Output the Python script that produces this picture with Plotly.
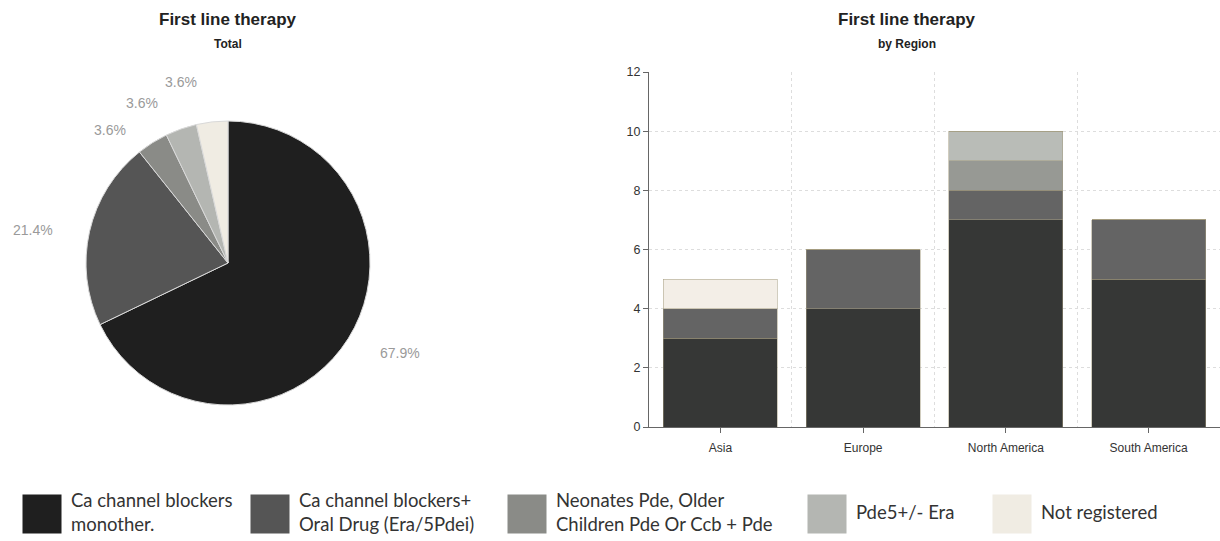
import numpy as np
import plotly.graph_objects as go

# ---------------- data ----------------
categories = ["Ca channel blockers monother.",
              "Ca channel blockers+ Oral Drug (Era/5Pdei)",
              "Neonates Pde, Older Children Pde Or Ccb + Pde",
              "Pde5+/- Era",
              "Not registered"]
legend_labels = ["Ca channel blockers<br>monother.",
                 "Ca channel blockers+<br>Oral Drug (Era/5Pdei)",
                 "Neonates Pde, Older<br>Children Pde Or Ccb + Pde",
                 "Pde5+/- Era",
                 "Not registered"]
pie_values = [19, 6, 1, 1, 1]

regions = ["Asia", "Europe", "North America", "South America"]
ca_mono = [3, 4, 7, 5]
ca_plus = [1, 2, 1, 2]
neonates = [0, 0, 1, 0]
pde5 = [0, 0, 1, 0]
not_registered = [1, 0, 0, 0]
bar_series = [ca_mono, ca_plus, neonates, pde5, not_registered]

y_ticks = [0, 2, 4, 6, 8, 10, 12]

# ---------------- styles ----------------
W, H = 1220, 541
pie_colors = ["#1f1f1f", "#555555", "#8a8b87", "#b4b6b2", "#f0ece3"]
bar_colors = ["#363736", "#646464", "#979994", "#b9bcb7", "#f3eee7"]
legend_colors = ["#1f1f1f", "#555555", "#8a8b87", "#b4b6b2", "#f0ece3"]
legend_x = [42, 270, 527, 827, 1012]          # swatch centres in px
legend_text_gap = 29                           # px from swatch centre to text
label_shift_deg = [-4.6, -3.3, -9.3, -9.0, -8.2]  # label angle nudges
label_radius = [194, 198, 178, 182, 187]          # label distance in px

FONT = "Liberation Sans, Arial, sans-serif"

fig = go.Figure()

# ---------------- pie ----------------
cx, cy, R = 228, 263, 142
fig.add_trace(go.Pie(
    labels=categories, values=pie_values, sort=False, direction="clockwise",
    rotation=0, textinfo="none", showlegend=False, hoverinfo="label+percent",
    marker=dict(colors=pie_colors, line=dict(color="#d9d9d9", width=1)),
    domain=dict(x=[(cx - R) / W, (cx + R) / W], y=[1 - (cy + R) / H, 1 - (cy - R) / H]),
))

annotations = []
total = sum(pie_values)
cum = 0
for v, sh, rl in zip(pie_values, label_shift_deg, label_radius):
    mid = (cum + v / 2) / total * 360
    cum += v
    a = np.radians(mid + sh)
    px = cx + rl * np.sin(a)
    py = cy - rl * np.cos(a)
    annotations.append(dict(x=px / W, y=1 - py / H, xref="paper", yref="paper",
                            xanchor="center", yanchor="middle",
                            text=f"{v / total * 100:.1f}%", showarrow=False,
                            font=dict(family=FONT, size=14, color="#9a9a9a")))

# ---------------- stacked bars ----------------
for name, vals, col in zip(categories, bar_series, bar_colors):
    fig.add_trace(go.Bar(
        x=regions, y=vals, name=name, showlegend=False,
        marker=dict(color=col, line=dict(color="#a39b7f", width=0.5)),
        xaxis="x", yaxis="y",
    ))

# invisible trace on overlay axis that draws boundary gridlines
fig.add_trace(go.Scatter(x=regions, y=[None] * len(regions), xaxis="x2", yaxis="y",
                         showlegend=False, hoverinfo="skip", mode="markers"))

# ---------------- legend (custom swatches) ----------------
fig.add_trace(go.Scatter(
    x=legend_x, y=[0] * len(legend_x), xaxis="x3", yaxis="y3",
    mode="markers",
    marker=dict(symbol="square", size=39, color=legend_colors, line=dict(width=0)),
    showlegend=False, hoverinfo="skip", cliponaxis=False,
))
fig.add_trace(go.Scatter(
    x=[lx + legend_text_gap for lx in legend_x], y=[0] * len(legend_x),
    xaxis="x3", yaxis="y3",
    mode="text", text=legend_labels, textposition="middle right",
    textfont=dict(family="Lato, sans-serif", size=18.5, color="#333333"),
    showlegend=False, hoverinfo="skip", cliponaxis=False,
))

# titles
title_font_big = dict(family=FONT, size=17, color="#222222")
title_font_small = dict(family=FONT, size=12, color="#222222")
for tx, ty, txt, f in [(cx, 19, "<b>First line therapy</b>", title_font_big),
                       (cx, 44, "<b>Total</b>", title_font_small),
                       (907, 19, "<b>First line therapy</b>", title_font_big),
                       (907, 44, "<b>by Region</b>", title_font_small)]:
    annotations.append(dict(x=tx / W, y=1 - ty / H, text=txt, font=f, xref="paper",
                            yref="paper", xanchor="center", yanchor="middle",
                            showarrow=False))

x0, x1 = 649 / W, 1.0
y0, y1 = 1 - 427 / H, 1 - 72 / H

fig.update_layout(
    width=W, height=H, margin=dict(l=0, r=0, t=0, b=0, autoexpand=False),
    paper_bgcolor="white", plot_bgcolor="white",
    barmode="stack", bargap=0.2,
    font=dict(family=FONT, size=12, color="#444444"),
    annotations=annotations,
    xaxis=dict(domain=[x0, x1], type="category", categoryarray=regions, automargin=False,
               range=[-0.5, 3.5], showgrid=False, showline=True, linecolor="#666666",
               linewidth=1, ticks="outside", ticklen=5, tickcolor="#666666",
               ticklabelstandoff=5,
               tickfont=dict(size=12, color="#333333"), zeroline=False, fixedrange=True),
    xaxis2=dict(domain=[x0, x1], type="category", categoryarray=regions, automargin=False,
                range=[-0.5, 3.5], overlaying="x", anchor="y", showgrid=True,
                gridcolor="#dddddd", griddash="dot", gridwidth=1,
                tickson="boundaries", showticklabels=False, ticks="", showline=False,
                zeroline=False),
    yaxis=dict(domain=[y0, y1], range=[0, 12], tickvals=y_ticks, showgrid=True,
               automargin=False,
               gridcolor="#dddddd", griddash="dot", gridwidth=1, showline=True,
               linecolor="#666666", linewidth=1, ticks="outside", ticklen=5,
               tickcolor="#666666", tickfont=dict(size=12.5, color="#333333"),
               zeroline=False),
    xaxis3=dict(domain=[0, 1], range=[0, W], visible=False, anchor="y3", automargin=False),
    yaxis3=dict(domain=[0, 1 - 487 / H], range=[-1, 1], visible=False, anchor="x3",
                automargin=False),
)

fig.write_html("out.html")
